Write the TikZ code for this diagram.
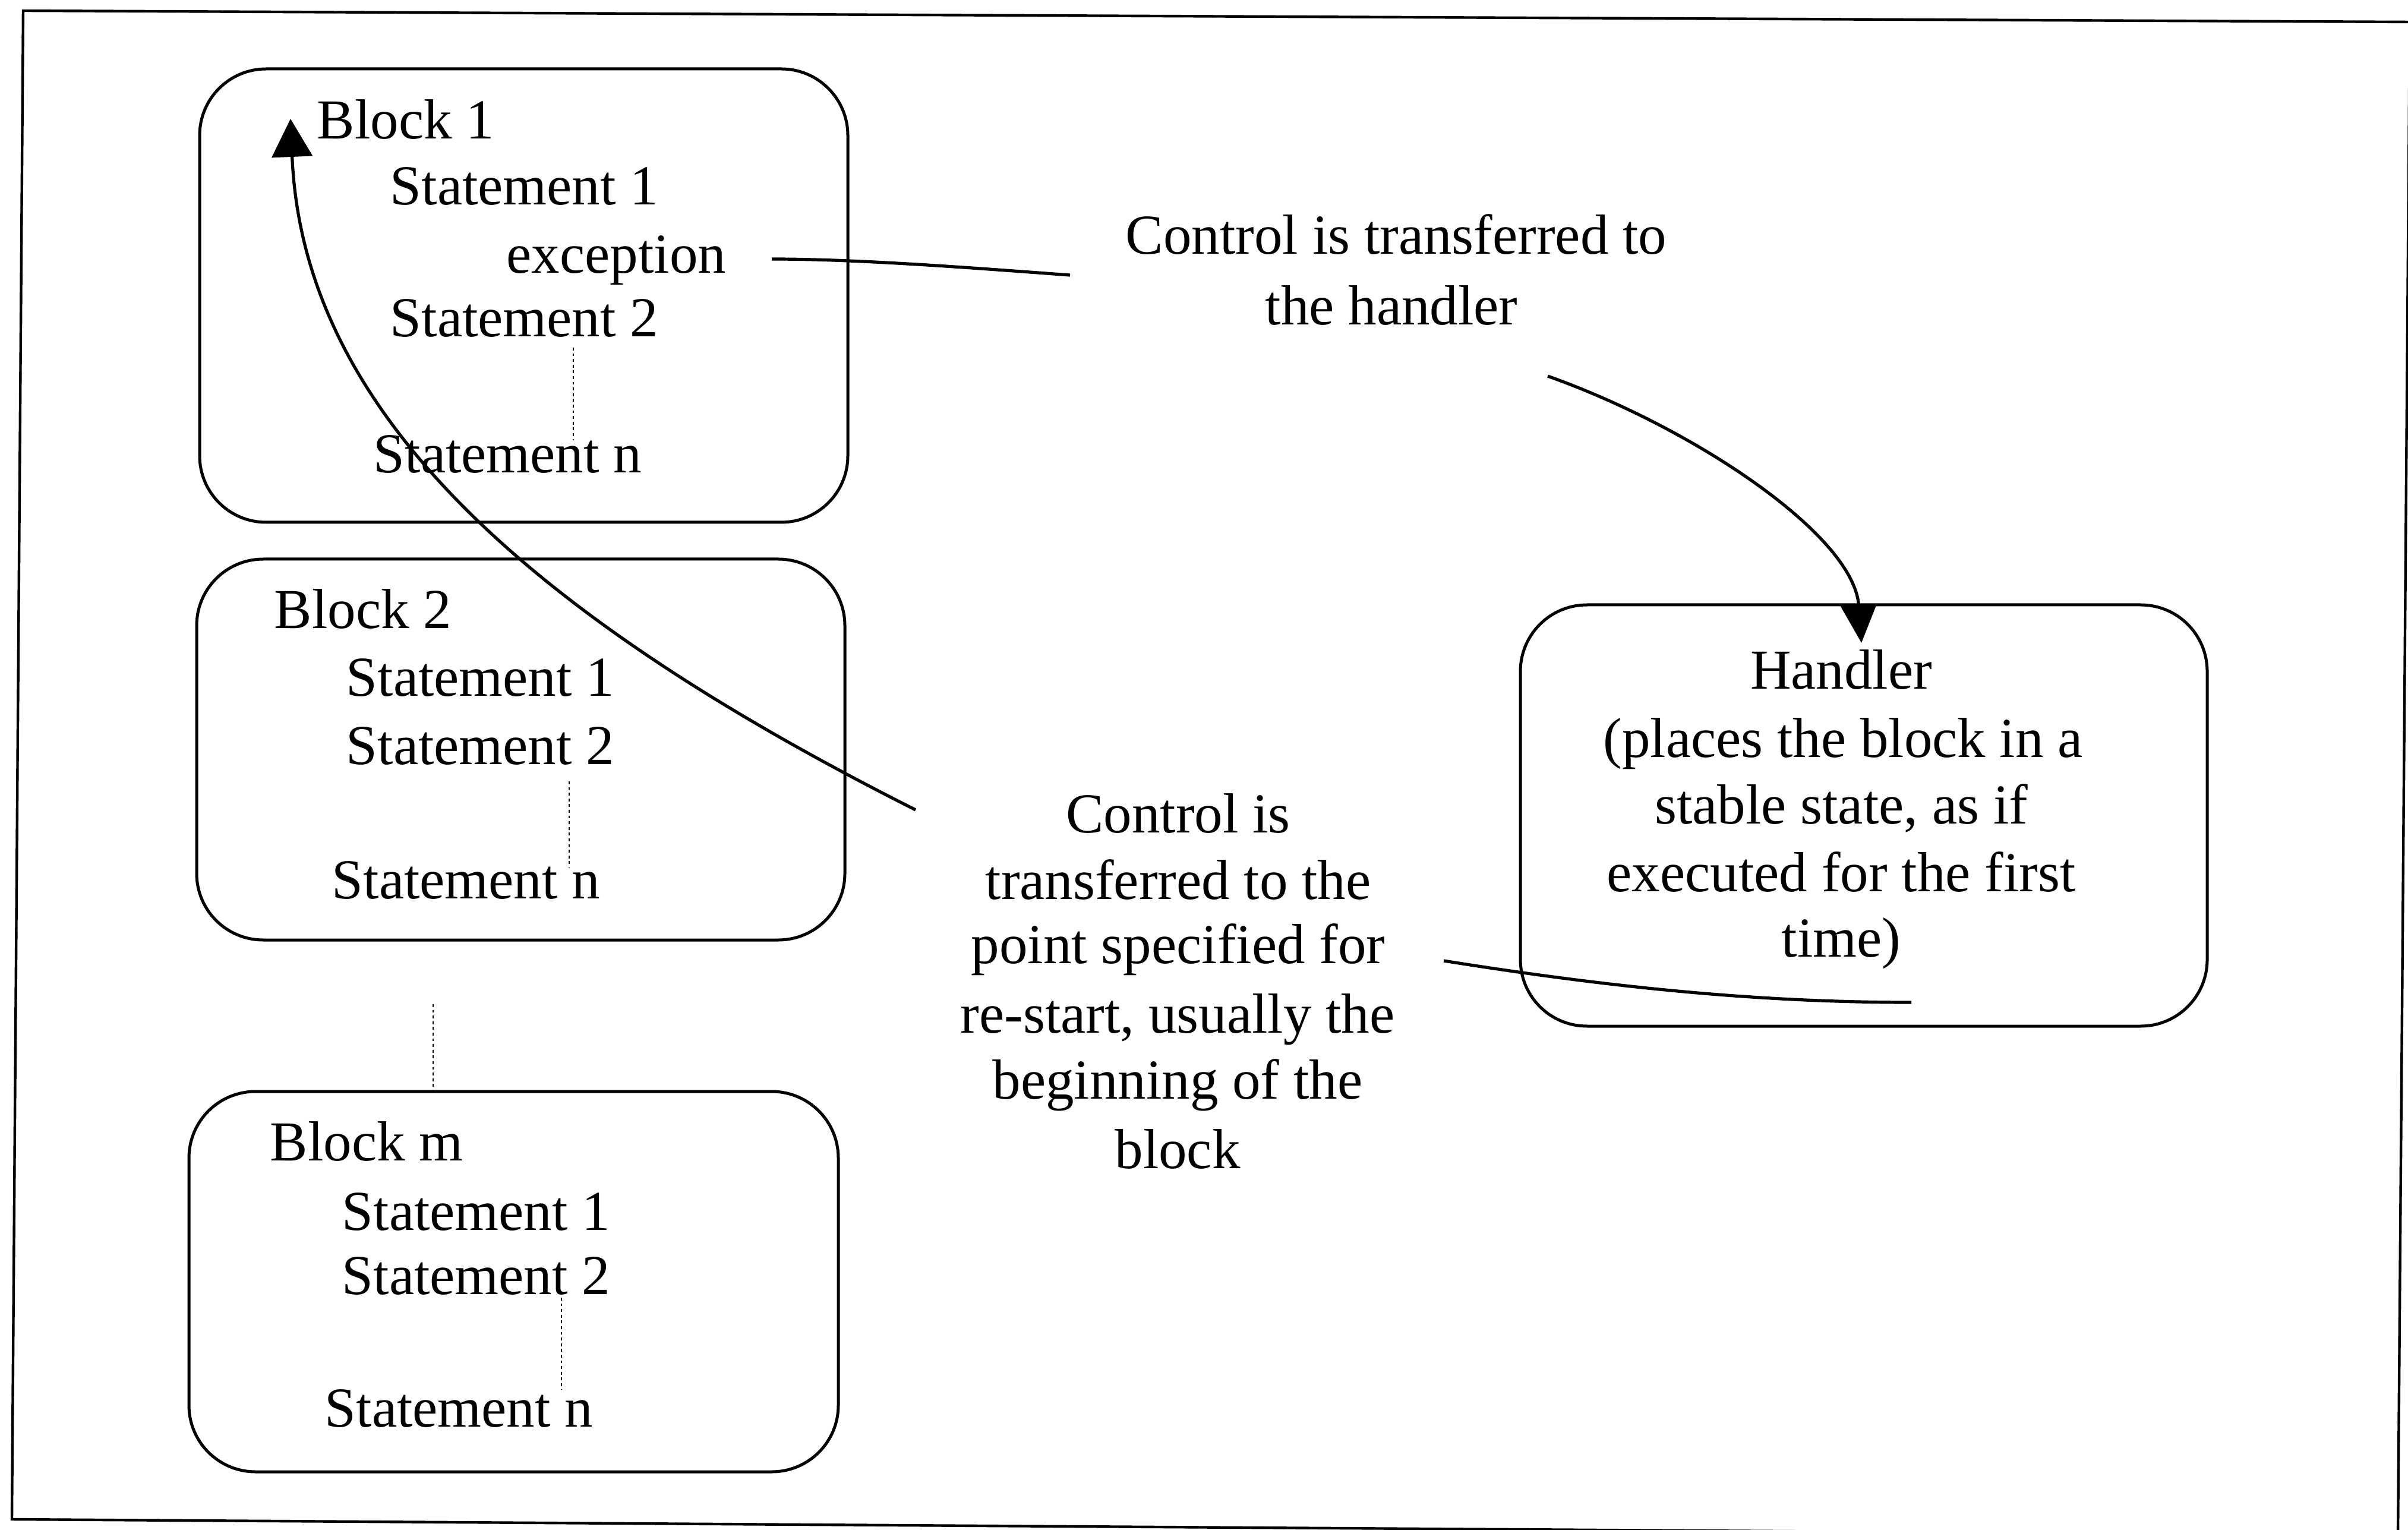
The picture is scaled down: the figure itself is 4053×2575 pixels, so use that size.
\documentclass[tikz,border=0pt]{standalone}
\usepackage{fontspec}
\setmainfont{Liberation Serif}
\usetikzlibrary{arrows.meta}
\begin{document}
\begin{tikzpicture}[x=0.25pt,y=-0.25pt,
  blockbox/.style={draw, line width=1.25pt, rounded corners=28pt, inner sep=0pt},
  txt/.style={anchor=base west, inner sep=0pt, font=\fontsize{23.75pt}{28.5pt}\selectfont},
  ctxt/.style={anchor=base, inner sep=0pt, font=\fontsize{23.75pt}{28.5pt}\selectfont},
  dotline/.style={line width=0.5pt, dash pattern=on 1.2pt off 1.2pt},
  conn/.style={line width=1.3pt},
  tipA/.style={-{Triangle[length=16pt,width=17pt]}},
  tipB/.style={-{Triangle[length=16pt,width=15pt]}}
]
\useasboundingbox (0,0) rectangle (4053,2575);
\begin{scope}
  \clip (0,0) rectangle (4053,2575);
  \draw[line width=1.1pt] (39,18) -- (4056,37) -- (4036,2584) -- (20,2557) -- cycle;
\end{scope}

% Block boxes
\node[blockbox, minimum width=272.75pt, minimum height=190.75pt] (b1) at (881.5,497.5) {};
\node[blockbox, minimum width=272.75pt, minimum height=160.25pt] (b2) at (876.5,1261.5) {};
\node[blockbox, minimum width=273.25pt, minimum height=160pt] (bm) at (864.5,2157) {};
\node[blockbox, minimum width=289pt, minimum height=177.25pt] (hb) at (3137,1372.5) {};

% Block 1 texts
\node[txt] (b1t) at (533,234) {Block 1};
\node[txt] (b1s1) at (656,345) {Statement 1};
\node[txt] (b1ex) at (852,460) {exception};
\node[txt] (b1s2) at (656,567) {Statement 2};
\node[txt] (b1sn) at (628,796) {Statement n};

% Block 2 texts
\node[txt] (b2t) at (461,1058) {Block 2};
\node[txt] (b2s1) at (582,1171) {Statement 1};
\node[txt] (b2s2) at (582,1286) {Statement 2};
\node[txt] (b2sn) at (558,1512) {Statement n};

% Block m texts
\node[txt] (bmt) at (454,1953) {Block m};
\node[txt] (bms1) at (575,2070) {Statement 1};
\node[txt] (bms2) at (575,2178) {Statement 2};
\node[txt] (bmsn) at (546,2401) {Statement n};

% Handler texts
\node[ctxt] (h1) at (3099,1160) {Handler};
\node[ctxt] (h2) at (3102,1274) {(places the block in a};
\node[ctxt] (h3) at (3099,1386) {stable state, as if};
\node[ctxt] (h4) at (3099,1500) {executed for the first};
\node[ctxt] (h5) at (3099,1610) {time)};

% Top right caption
\node[ctxt] (t1) at (2350,428) {Control is transferred to};
\node[ctxt] (t2) at (2342,547) {the handler};

% Middle caption
\node[ctxt] (m1) at (1983,1401) {Control is};
\node[ctxt] (m2) at (1983,1513) {transferred to the};
\node[ctxt] (m3) at (1983,1621) {point specified for};
\node[ctxt] (m4) at (1982,1738) {re-start, usually the};
\node[ctxt] (m5) at (1982,1849) {beginning of the};
\node[ctxt] (m6) at (1982,1966) {block};

% Coordinates for connector ends
\coordinate (d1a) at (965,585);   \coordinate (d1b) at (965,740);
\coordinate (d2a) at (958,1315);  \coordinate (d2b) at (958,1460);
\coordinate (dma) at (945,2184);  \coordinate (dmb) at (945,2338);
\coordinate (dba) at (729,1690);  \coordinate (dbb) at (729,1836);
\coordinate (ex1) at (1299,436);  \coordinate (ex2) at (1801,463);
\coordinate (ha1) at (2605,633);  \coordinate (ha2) at (3133,1082);
\coordinate (hr1) at (2430,1617); \coordinate (hr2) at (3217,1687);
\coordinate (rs1) at (1541,1363); \coordinate (rs2) at (489,200);

% Dotted ellipsis lines
\draw[dotline] (d1a) -- (d1b);
\draw[dotline] (d2a) -- (d2b);
\draw[dotline] (dma) -- (dmb);
\draw[dotline] (dba) -- (dbb);

% Connectors
\draw[conn] (ex1) .. controls (1450,436) and (1650,452) .. (ex2);
\draw[conn, tipB] (ha1) .. controls (2850,720) and (3120,900) .. (ha2);
\draw[conn] (hr1) .. controls (2700,1660) and (2950,1687) .. (hr2);
\draw[conn, tipA] (rs1) .. controls (900,1040) and (510,700) .. (rs2);
\end{tikzpicture}
\end{document}
